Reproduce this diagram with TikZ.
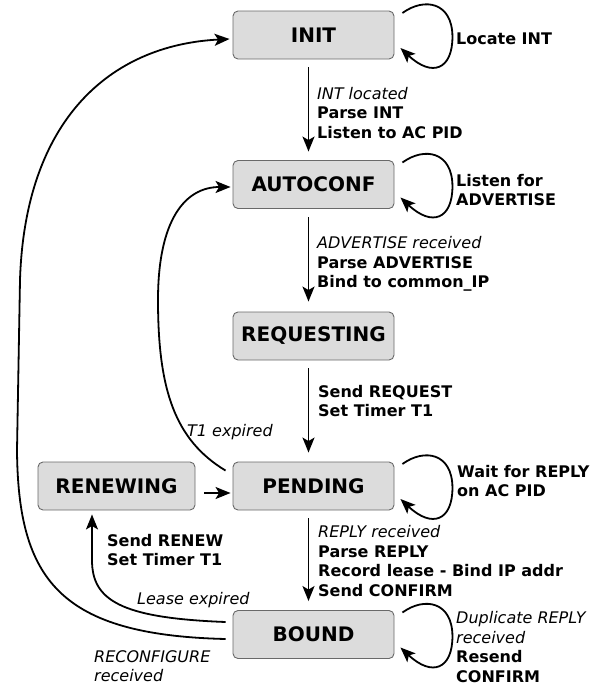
\documentclass[tikz,border=0pt]{standalone}
\usepackage{fontspec}
\setmainfont{DejaVu Sans}
\usetikzlibrary{arrows.meta}
\definecolor{boxfill}{RGB}{220,220,220}
\definecolor{boxline}{RGB}{105,105,105}
\newcommand{\ital}[1]{{\mdseries\itshape #1}}
\newcommand{\myloop}[1]{\draw[arr] ([shift={(8,-22)}]#1.east) .. controls +(22,-16) and +(0,-35) .. ([shift={(58,2)}]#1.east) .. controls +(0,32) and +(32,30) .. ([shift={(6,13)}]#1.east);}
\begin{document}
\begin{tikzpicture}[x=1pt,y=-1pt,
  state/.style={draw=boxline, fill=boxfill, rounded corners=5pt, line width=0.9pt,
    minimum width=161pt, minimum height=48pt, inner sep=0pt,
    font=\bfseries\fontsize{20}{24}\selectfont},
  lbl/.style={font=\bfseries\fontsize{16}{19.5}\selectfont, align=left, anchor=west, inner sep=0pt},
  arr/.style={line width=1.8pt, -{Stealth[length=15pt,width=12pt,inset=3.5pt]}}]
\useasboundingbox (0,0) rectangle (606,686);

\node[state] (INIT) at (313.5,35) {INIT};
\node[state] (AUTO) at (313.5,184.5) {AUTOCONF};
\node[state] (REQ) at (313.5,336) {REQUESTING};
\node[state] (PEND) at (313.5,486) {PENDING};
\node[state, minimum width=157pt] (REN) at (116.5,486) {RENEWING};
\node[state] (BOUND) at (313.5,634.5) {BOUND};

% straight transitions
\draw[arr] ([shift={(-5,8)}]INIT.south) -- ([shift={(-5,-8.5)}]AUTO.north);
\draw[arr] ([shift={(-5,8.5)}]AUTO.south) -- ([shift={(-5,-10)}]REQ.north);
\draw[arr] ([shift={(-5,8)}]REQ.south) -- ([shift={(-5,-9)}]PEND.north);
\draw[arr] ([shift={(-5,8)}]PEND.south) -- ([shift={(-5,-9)}]BOUND.north);
\draw[arr] ([shift={(9,7)}]REN.east) -- ([shift={(-2,7)}]PEND.west);

% self loops
\myloop{INIT}
\myloop{AUTO}
\myloop{PEND}
\myloop{BOUND}

% T1 expired
\draw[arr] ([shift={(-7,9)}]PEND.north west) .. controls (175,440) and (158,390) .. (158,300)
  .. controls (158,220) and (185,187) .. ([shift={(-2,2.5)}]AUTO.west);
% Lease expired
\draw[arr] ([shift={(-7,-12.5)}]BOUND.west) .. controls (120,618) and (92,600) .. (92,560)
  -- ([shift={(-24.5,4)}]REN.south);
% RECONFIGURE received
\draw[arr] ([shift={(-7,4.5)}]BOUND.west) .. controls (60,635) and (18,580) .. (17,450)
  -- (20,280) .. controls (25,120) and (110,45) .. ([shift={(-3,4)}]INIT.west);

% labels
\node[lbl] (lA) at (317,113) {\ital{INT located}\\Parse INT\\Listen to AC PID};
\node[lbl] (lB) at (317,264) {\ital{ADVERTISE received}\\Parse ADVERTISE\\Bind to common\_IP};
\node[lbl] (lC) at (318,401) {Send REQUEST\\Set Timer T1};
\node[lbl] (lD) at (318,561) {\ital{REPLY received}\\Parse REPLY\\Record lease - Bind IP addr\\Send CONFIRM};
\node[lbl] (lLoc) at (456,39) {Locate INT};
\node[lbl] (lLis) at (456,190) {Listen for\\ADVERTISE};
\node[lbl] (lWait) at (457,481) {Wait for REPLY\\on AC PID};
\node[lbl] (lDup) at (456,647) {\ital{Duplicate REPLY}\\\ital{received}\\Resend\\CONFIRM};
\node[lbl] (lT1) at (187,432) {\ital{T1 expired}};
\node[lbl] (lRen) at (107,550) {Send RENEW\\Set Timer T1};
\node[lbl] (lLease) at (137,600) {\ital{Lease expired}};
\node[lbl] (lRec) at (94,666) {\ital{RECONFIGURE}\\\ital{received}};
\end{tikzpicture}
\end{document}
